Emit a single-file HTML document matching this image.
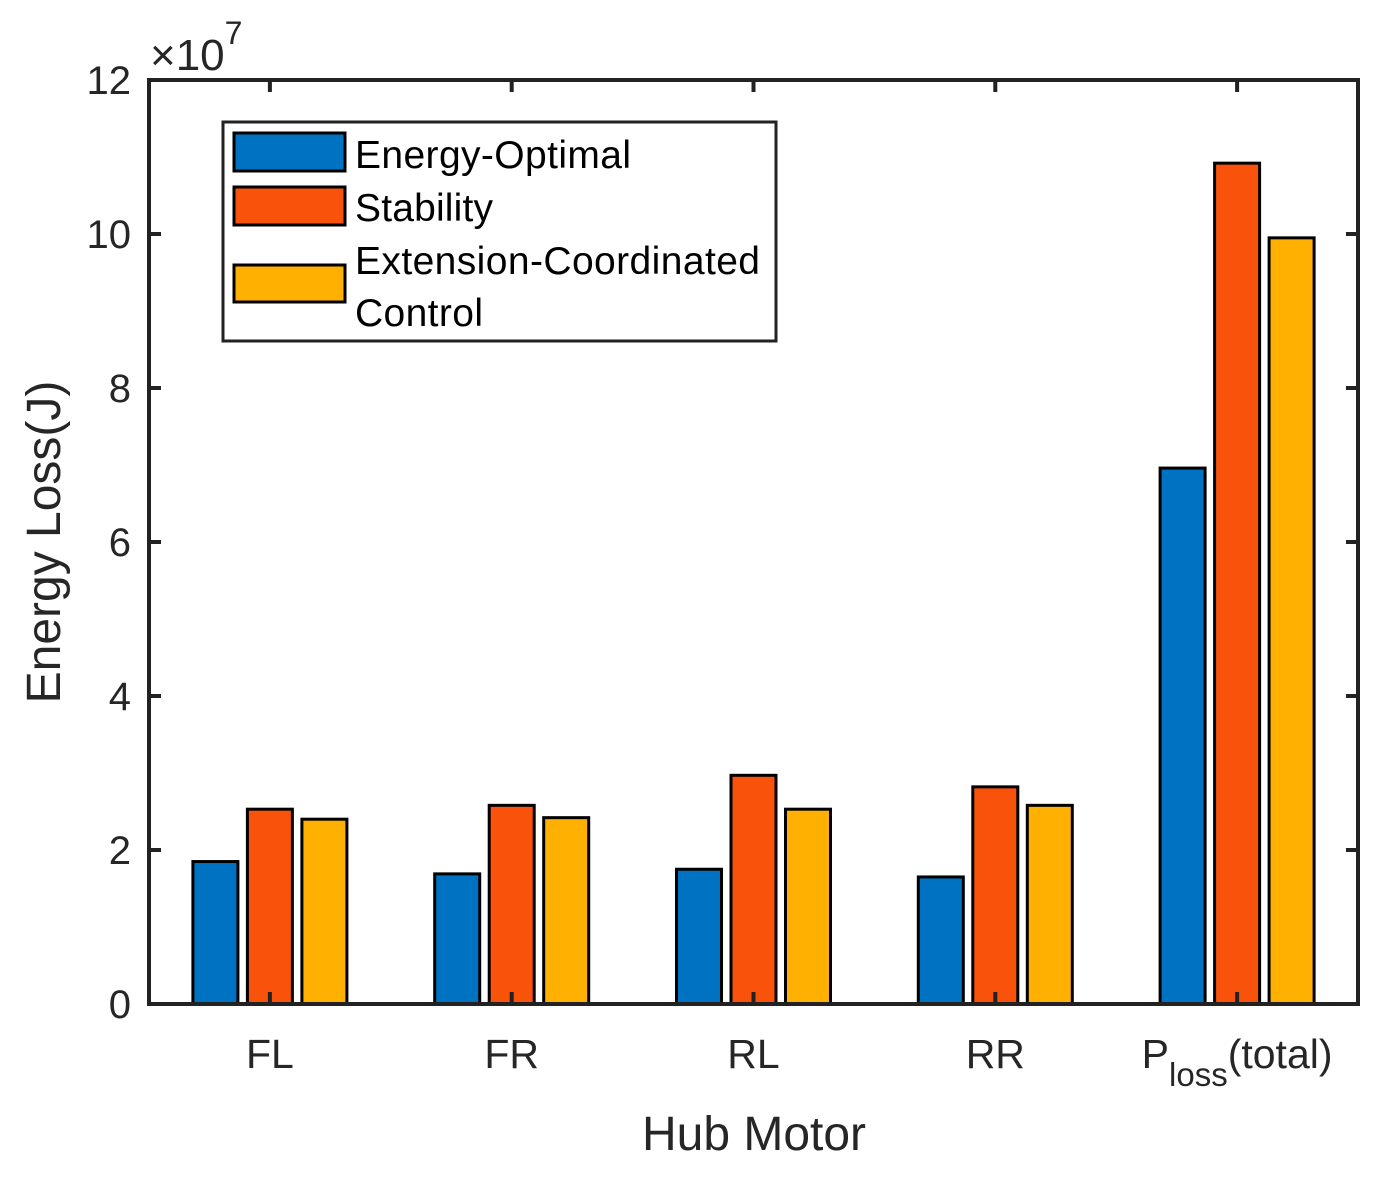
<!DOCTYPE html>
<html><head><meta charset="utf-8"><style>
body{margin:0;background:#fff}
svg text{font-family:"Liberation Sans",Arial,sans-serif;fill:#262626}
</style></head><body>
<svg id="chart" width="1394" height="1181" xmlns="http://www.w3.org/2000/svg">
<g id="bars"></g>
<g id="axes"></g>
<text x="150" y="70" font-size="44">×10<tspan dy="-26" font-size="32">7</tspan></text>
<text x="754" y="1150" font-size="48" text-anchor="middle">Hub Motor</text>
<text transform="translate(60,542) rotate(-90)" font-size="48" text-anchor="middle">Energy Loss(J)</text>
<g>
<rect x="223" y="122" width="553" height="219" fill="#fff" stroke="#222" stroke-width="3"/>
<rect x="234" y="133" width="111" height="38" fill="#0072C2" stroke="#000" stroke-width="3"/>
<text x="355" y="168" font-size="39" textLength="276" style="fill:#000">Energy-Optimal</text>
<rect x="234" y="187" width="111" height="38" fill="#F9530B" stroke="#000" stroke-width="3"/>
<text x="355" y="221" font-size="39" textLength="138" style="fill:#000">Stability</text>
<rect x="234" y="265" width="111" height="37" fill="#FFB000" stroke="#000" stroke-width="3"/>
<text x="355" y="274" font-size="39" textLength="405" style="fill:#000">Extension-Coordinated</text>
<text x="355" y="326" font-size="39" textLength="128" style="fill:#000">Control</text>
</g>
</svg>
<script>
const categories=["FL","FR","RL","RR","Ploss(total)"];
const energyOptimal=[1.85,1.69,1.75,1.65,6.96];
const stability=[2.53,2.58,2.97,2.82,10.92];
const extensionCoordinated=[2.40,2.42,2.53,2.58,9.95];
const yTicks=[0,2,4,6,8,10,12];
const NS="http://www.w3.org/2000/svg";
const L=149,R=1358,T=80,B=1004;
const xs=i=>L+(i+0.5)*(R-L)/categories.length;
const ys=v=>B-v*(B-T)/12;
const bars=document.getElementById('bars'),axes=document.getElementById('axes');
function mk(tag,attrs,parent){const e=document.createElementNS(NS,tag);for(const k in attrs)e.setAttribute(k,attrs[k]);parent.appendChild(e);return e;}
const series=[[energyOptimal,"#0072C2",-54.5,"energy-optimal"],[stability,"#F9530B",0,"stability"],[extensionCoordinated,"#FFB000",54.5,"extension-coordinated"]];
series.forEach(([vals,col,off,nm])=>{vals.forEach((v,i)=>{
const r=mk('rect',{x:xs(i)+off-22.5,y:ys(v),width:45,height:B-ys(v),fill:col,stroke:'#000','stroke-width':3},bars);


});});
mk('rect',{x:L,y:T,width:R-L,height:B-T,fill:'none',stroke:'#222','stroke-width':4},axes);
yTicks.forEach(v=>{
mk('line',{x1:L,x2:L+12,y1:ys(v),y2:ys(v),stroke:'#222','stroke-width':4},axes);
mk('line',{x1:R-12,x2:R,y1:ys(v),y2:ys(v),stroke:'#222','stroke-width':4},axes);
const t=mk('text',{x:131,y:ys(v)+14,'font-size':40,'text-anchor':'end'},axes);


t.textContent=v;
});
categories.forEach((c,i)=>{
mk('line',{x1:xs(i),x2:xs(i),y1:B,y2:B-12,stroke:'#222','stroke-width':4},axes);
mk('line',{x1:xs(i),x2:xs(i),y1:T,y2:T+12,stroke:'#222','stroke-width':4},axes);
const t=mk('text',{x:xs(i),y:1068,'font-size':41,'text-anchor':'middle'},axes);


if(c.startsWith('Ploss')){
t.innerHTML='P<tspan dy="18" font-size="33">loss</tspan><tspan dy="-18">(total)</tspan>';
}else t.textContent=c;
});
</script>
</body></html>
